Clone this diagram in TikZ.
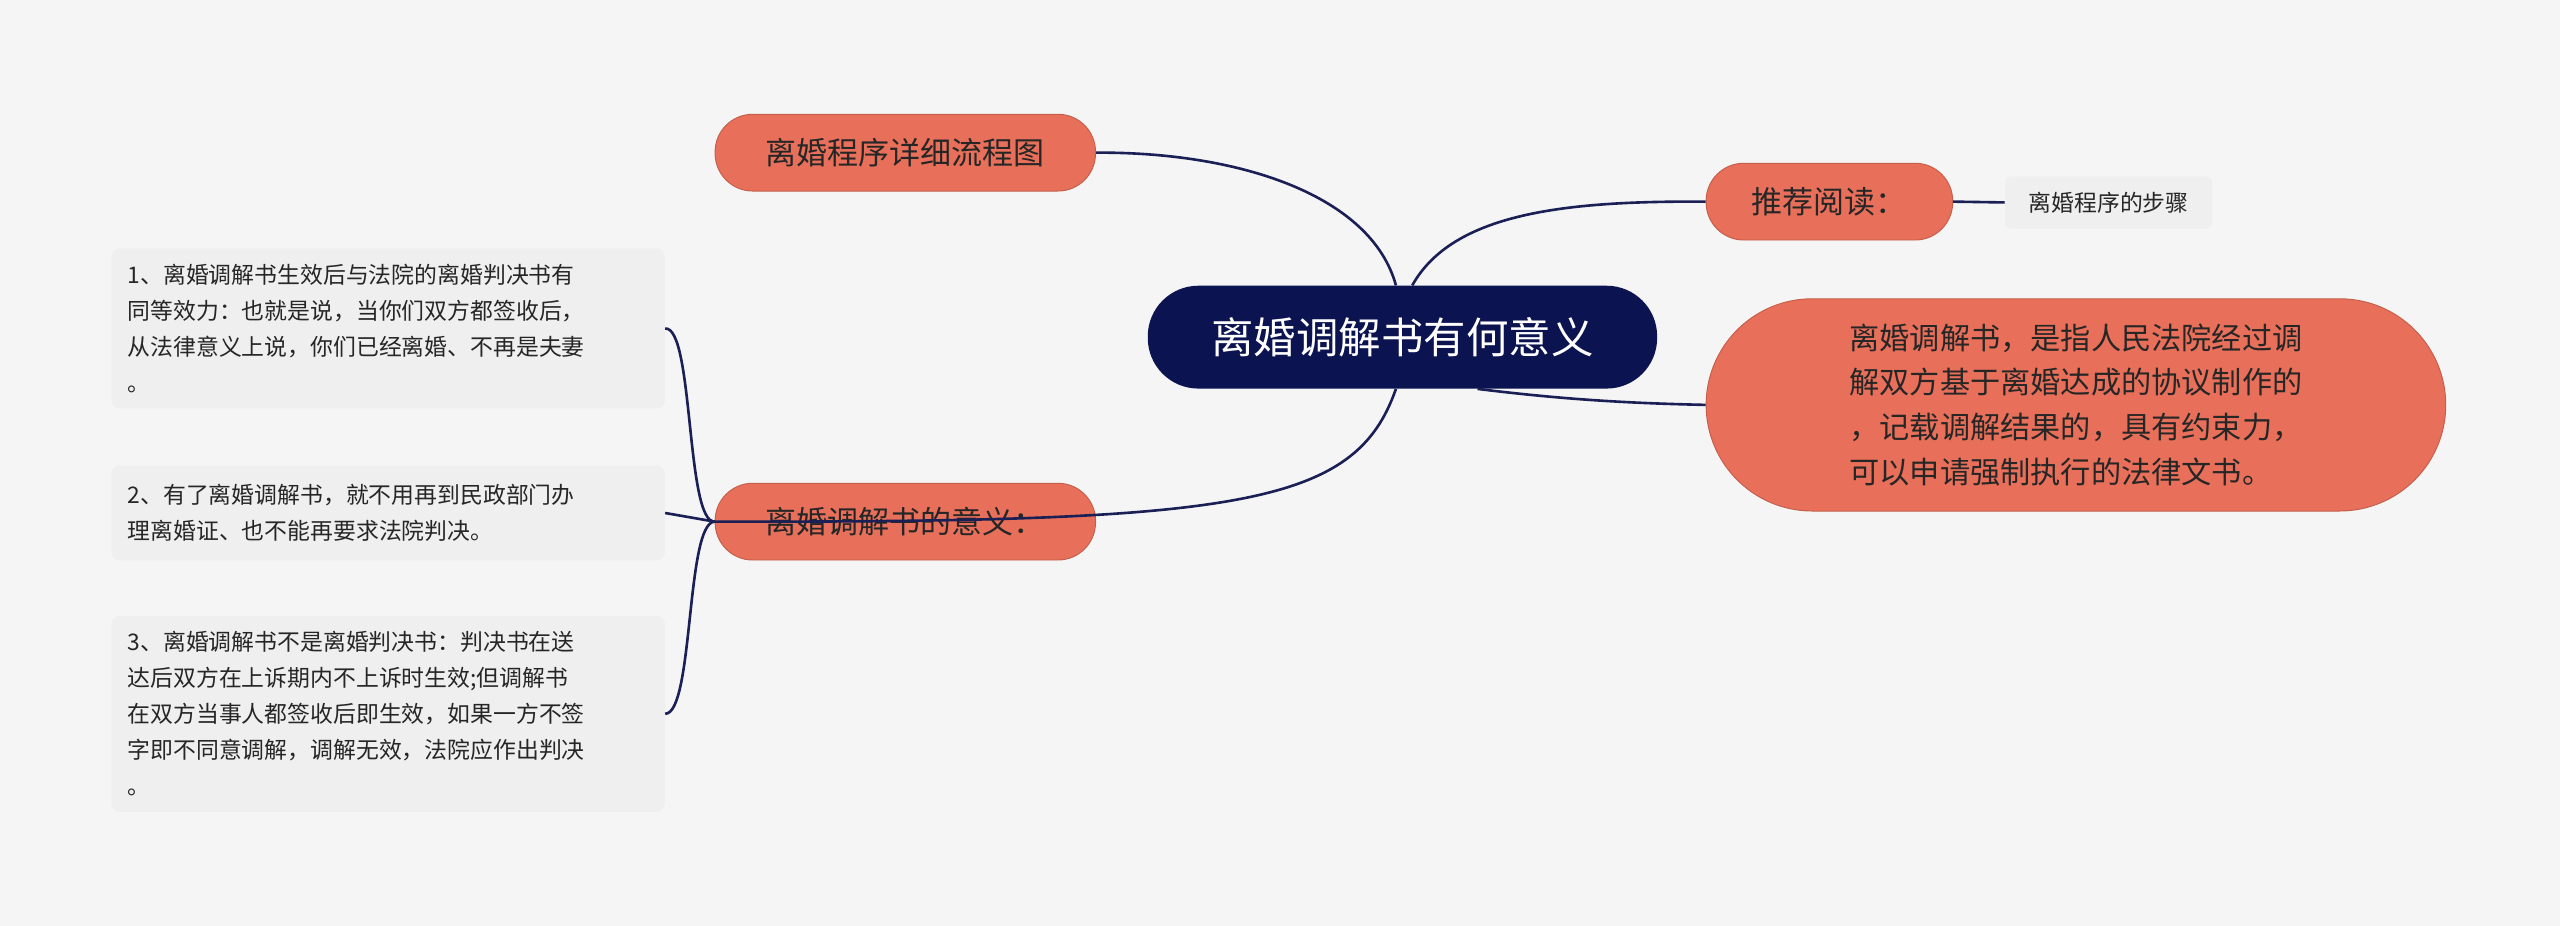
\documentclass[tikz,border=0pt]{standalone}
\usepackage{fontspec}
\usetikzlibrary{calc}
\setmainfont{Noto Sans CJK SC}
\begin{document}
\begin{tikzpicture}[x=1pt,y=-1pt,
  salmon/.style={fill=nodesal,draw=nodesal!85!black,line width=0.6pt,rounded corners=23pt,text=black!85,font=\fontsize{19}{24}\selectfont,inner sep=0pt},
  leaf/.style={fill=leafgray,rounded corners=5pt,text=black!85,font=\fontsize{14}{22}\selectfont,inner sep=0pt,align=left,anchor=north west},
  link/.style={draw=linkblue,line width=1.6pt}]
\definecolor{nodesal}{HTML}{E8705A}
\definecolor{leafgray}{HTML}{EFEFEF}
\definecolor{navy}{HTML}{0B1350}
\definecolor{linkblue}{HTML}{1A1F55}
\fill[fill={rgb,255:red,245;green,245;blue,245}] (0,0) rectangle (1568,567);
\useasboundingbox (0,0) rectangle (1568,567);

\node[fill=navy,rounded corners=31pt,minimum width=312pt,minimum height=63pt,text=white,font=\fontsize{26}{30}\selectfont] (c) at (859,206.5) {离婚调解书有何意义};
\node[salmon,minimum width=233pt,minimum height=47pt] (a) at (554.5,93.5) {离婚程序详细流程图};
\node[salmon,minimum width=151pt,minimum height=47pt] (r) at (1120.5,123.5) {推荐阅读：};
\node[fill=leafgray,rounded corners=4pt,minimum width=127pt,minimum height=32pt,font=\fontsize{14}{18}\selectfont,text=black!85] (rs) at (1291.5,124) {离婚程序的步骤};
\node[salmon,rounded corners=65pt,minimum width=453pt,minimum height=130pt,align=left,font=\fontsize{18.5}{27.5}\selectfont] (big) at (1271.5,248) {离婚调解书，是指人民法院经过调\\解双方基于离婚达成的协议制作的\\，记载调解结果的，具有约束力，\\可以申请强制执行的法律文书。};
\node[salmon,minimum width=233pt,minimum height=47pt] (m) at (554.5,319.5) {离婚调解书的意义：};

\node[leaf,minimum width=339pt,minimum height=98pt,text width=331pt] (l1) at (68,152) {\hspace*{6pt}\parbox[c][98pt][c]{325pt}{1、离婚调解书生效后与法院的离婚判决书有\\同等效力：也就是说，当你们双方都签收后，\\从法律意义上说，你们已经离婚、不再是夫妻\\。}};
\node[leaf,minimum width=339pt,minimum height=58pt,text width=331pt] (l2) at (68,285) {\hspace*{6pt}\parbox[c][58pt][c]{325pt}{2、有了离婚调解书，就不用再到民政部门办\\理离婚证、也不能再要求法院判决。}};
\node[leaf,minimum width=339pt,minimum height=120pt,text width=331pt] (l3) at (68,377) {\hspace*{6pt}\parbox[c][120pt][c]{325pt}{3、离婚调解书不是离婚判决书：判决书在送\\达后双方在上诉期内不上诉时生效;但调解书\\在双方当事人都签收后即生效，如果一方不签\\字即不同意调解，调解无效，法院应作出判决\\。}};

\path[link] ($(c.north)+(-4,0)$) .. controls (840,120) and (760,93) .. (a.east);
\path[link] ($(c.north)+(6,0)$) .. controls (890,130) and (960,123) .. (r.west);
\path[link] ($(c.south)+(46,0)$) .. controls (960,245) and (1000,247) .. (big.west);
\path[link] ($(c.south)+(-4,0)$) .. controls (830,310) and (760,320) .. (m.west);
\path[link] (r.east) -- (rs.west);
\path[link] (m.west) -- (l2.east);
\path[link] (m.west) .. controls (420,320) and (425,200) .. (l1.east);
\path[link] (m.west) .. controls (420,320) and (425,437) .. (l3.east);
\end{tikzpicture}
\end{document}
